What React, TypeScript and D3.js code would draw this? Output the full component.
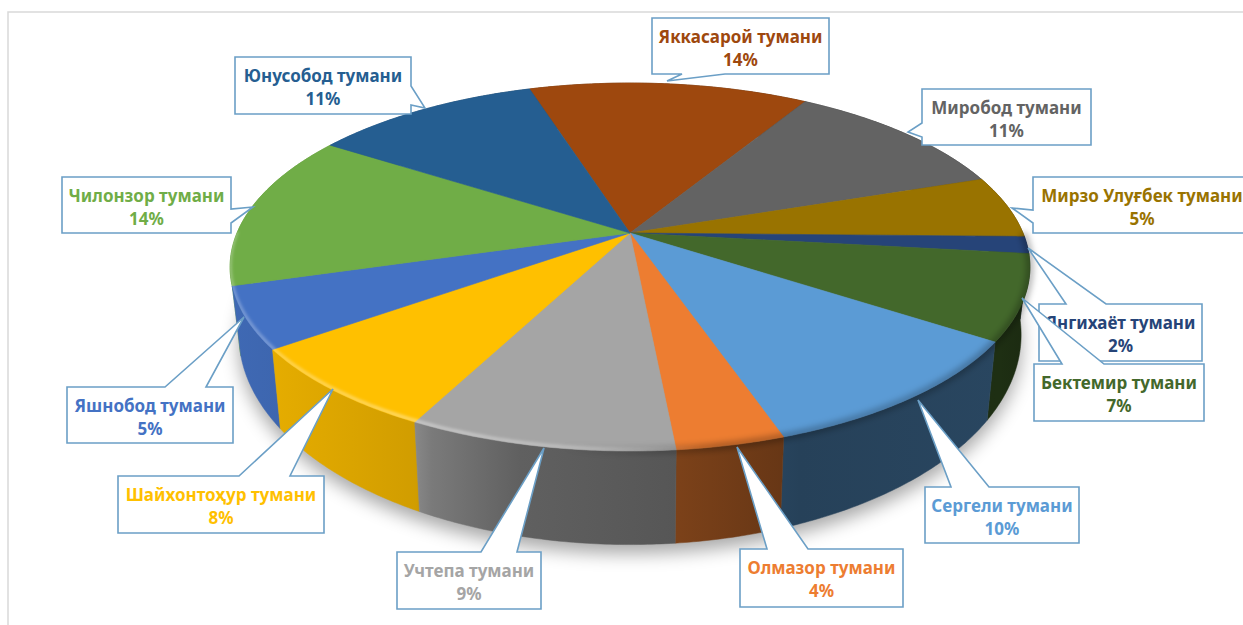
import React from "react";
import * as d3 from "d3";

const districts = ["Яккасарой тумани","Миробод тумани","Мирзо Улуғбек тумани","Янгихаёт тумани","Бектемир тумани","Сергели тумани","Олмазор тумани","Учтепа тумани","Шайхонтоҳур тумани","Яшнобод тумани","Чилонзор тумани","Юнусобод тумани"];
const shares = [13.5,11.2,5.49,1.5,7.49,10.49,3.7,9.1,7.5,5.4,13.7,11.0];
const sliceColors = ["#9e480e","#636363","#997300","#264478","#43682b","#5b9bd5","#ed7d31","#a5a5a5","#ffc000","#4472c4","#70ad47","#255e91"];
const labelColors = ["#9e480e","#636363","#997300","#264478","#43682b","#5b9bd5","#ed7d31","#a5a5a5","#ffc000","#4472c4","#70ad47","#255e91"];

// callout geometry: box, then wedge points in clockwise order and the side they sit on
type Callout = { box:[number,number,number,number]; side:"t"|"r"|"b"|"l"; wedge:[number,number][] };
const callouts: Callout[] = [
  {box:[652,18,829,74],side:"b",wedge:[[725,74],[667,81],[682,74]]},
  {box:[922,89,1091,145],side:"l",wedge:[[922,137],[908,132],[922,123]]},
  {box:[1033,177,1260,233],side:"l",wedge:[[1033,223],[1012,208],[1033,210]]},
  {box:[1039,304,1202,361],side:"t",wedge:[[1066,304],[1028,248],[1106,304]]},
  {box:[1034,364,1204,421],side:"t",wedge:[[1062,364],[1022,298],[1104,364]]},
  {box:[925,487,1079,543],side:"t",wedge:[[951,487],[918,400],[989,487]]},
  {box:[740,549,903,607],side:"t",wedge:[[767,549],[737,447],[808,549]]},
  {box:[397,552,541,609],side:"t",wedge:[[481,552],[544,448],[517,552]]},
  {box:[118,476,324,533],side:"t",wedge:[[239,476],[333,389],[290,476]]},
  {box:[67,387,233,443],side:"t",wedge:[[165,387],[244,317],[206,387]]},
  {box:[62,177,231,233],side:"r",wedge:[[231,209],[253,207],[231,223]]},
  {box:[235,57,411,114],side:"r",wedge:[[411,86],[425,108],[411,105]]},
];
const drawOrder = [0,1,2,3,4,5,6,7,8,9,10,11];

const CX = 630, CY = 233, A = 393, B = 177.7, P = 0.185;
const BASE_DY = 63, BASE_SX = 0.978, BASE_SY = 1.14;
const START = (-17.5 * Math.PI) / 180;

const wallStops: [number,number][] = [[230,0.92],[416,0.82],[432,0.74],[520,0.58],[680,0.52],[800,0.42],[1000,0.45],[1030,0.4]];
const wallX = d3.scaleLinear().domain([230,1030]).range([0,1]);

function project(a:number, base=false):[number,number]{
  const X = Math.sin(a), Y = -Math.cos(a);
  const d = 1 - P*Y;
  const x = (A*X)/d, y = (B*Y)/d;
  return base ? [CX + BASE_SX*x, CY + BASE_DY + BASE_SY*y] : [CX + x, CY + y];
}
const line = d3.line<[number,number]>().x(d=>d[0]).y(d=>d[1]);
function arcSamples(a0:number,a1:number){
  const n = Math.max(2, Math.ceil((a1-a0)/0.01));
  return d3.range(n+1).map(i=>a0+(a1-a0)*i/n);
}
function calloutPath(c:Callout){
  const [x0,y0,x1,y1]=c.box;
  const pts:[number,number][]=[[x0,y0]];
  if(c.side==="t") pts.push(...c.wedge);
  pts.push([x1,y0]);
  if(c.side==="r") pts.push(...c.wedge);
  pts.push([x1,y1]);
  if(c.side==="b") pts.push(...c.wedge);
  pts.push([x0,y1]);
  if(c.side==="l") pts.push(...c.wedge);
  return line(pts)+"Z";
}

export default function App(){
  const pie = d3.pie<number>().sort(null).startAngle(START).endAngle(START+2*Math.PI);
  const arcs = pie(shares);
  const backToFront = arcs.map((d,i)=>({d,i})).sort((p,q)=>{
    const m=(x:any)=>-Math.cos((x.startAngle+x.endAngle)/2);
    return m(p.d)-m(q.d);
  });
  const outline = (base:boolean)=>line(arcSamples(0,2*Math.PI).map(a=>project(a,base)))+"Z";
  const rimAngles = arcSamples(Math.PI*0.5,Math.PI*1.5);
  return (
    <svg width={1243} height={625} style={{position:"absolute",left:0,top:0,background:"#fff"}}>
      <defs>
        <filter id="soft" x="-20%" y="-20%" width="140%" height="140%"><feGaussianBlur stdDeviation="9"/></filter>
        <filter id="rimBlur" x="-5%" y="-5%" width="110%" height="110%"><feGaussianBlur stdDeviation="1.4"/></filter>
        <filter id="rimDark" x="-5%" y="-5%" width="110%" height="110%"><feGaussianBlur stdDeviation="3"/></filter>
        {sliceColors.map((col,i)=>(
          <linearGradient key={i} id={`wall${i}`} gradientUnits="userSpaceOnUse" x1={230} x2={1030} y1={0} y2={0}>
            {wallStops.map(([x,f],k)=>{
              const c=d3.rgb(col);
              return <stop key={k} offset={wallX(x)} stopColor={d3.rgb(c.r*f,c.g*f,c.b*f).formatHex()}/>;
            })}
          </linearGradient>
        ))}
        <linearGradient id="rimLight" gradientUnits="userSpaceOnUse" x1={230} x2={1030} y1={0} y2={0}>
          <stop offset={0} stopColor="#fff" stopOpacity={0.28}/>
          <stop offset={wallX(420)} stopColor="#fff" stopOpacity={0.4}/>
          <stop offset={wallX(600)} stopColor="#fff" stopOpacity={0.25}/>
          <stop offset={wallX(700)} stopColor="#fff" stopOpacity={0}/>
          <stop offset={1} stopColor="#fff" stopOpacity={0}/>
        </linearGradient>
        <linearGradient id="rimShade" gradientUnits="userSpaceOnUse" x1={230} x2={1030} y1={0} y2={0}>
          <stop offset={wallX(560)} stopColor="#000" stopOpacity={0}/>
          <stop offset={wallX(720)} stopColor="#000" stopOpacity={0.3}/>
          <stop offset={wallX(900)} stopColor="#000" stopOpacity={0.25}/>
          <stop offset={1} stopColor="#000" stopOpacity={0.3}/>
        </linearGradient>
        <clipPath id="topClip"><path d={outline(false)}/></clipPath>
      </defs>

      <path d="M8,625V12H1243" fill="none" stroke="#d9d9d9" strokeWidth={1.5}/>

      <path d={outline(true)} transform="translate(0,9)" fill="#000" opacity={0.34} filter="url(#soft)"/>

      <g>
        {backToFront.map(({d,i})=>{
          const as=arcSamples(d.startAngle,d.endAngle);
          const pts=[...as.map(a=>project(a)),...as.slice().reverse().map(a=>project(a,true))];
          return <path key={i} d={line(pts)+"Z"} fill={`url(#wall${i})`} stroke={`url(#wall${i})`} strokeWidth={0.5}/>;
        })}
      </g>

      <g>
        {arcs.map((d,i)=>{
          const pts:[number,number][]=[[CX,CY],...arcSamples(d.startAngle,d.endAngle).map(a=>project(a))];
          return <path key={i} d={line(pts)+"Z"} fill={sliceColors[i]} stroke={sliceColors[i]} strokeWidth={0.6}/>;
        })}
      </g>

      <path d={line(rimAngles.map(a=>project(a)))!} fill="none" stroke="url(#rimShade)" strokeWidth={7} filter="url(#rimDark)"/>
      <g clipPath="url(#topClip)">
        <path d={line(rimAngles.map(a=>{const p=project(a);return [p[0],p[1]-1.5] as [number,number];}))!} fill="none" stroke="url(#rimLight)" strokeWidth={3.5} filter="url(#rimBlur)"/>
      </g>

      <g>
        {drawOrder.map(i=>{
          const c=callouts[i];
          const [x0,y0,x1,y1]=c.box;
          const mid=i===2?1142:(x0+x1)/2;
          return (
            <g key={i}>
              <path d={calloutPath(c)} fill="#fff" stroke="#6b9fc6" strokeWidth={1.6} strokeLinejoin="miter"/>
              <text x={mid} y={y0+24.5} textAnchor="middle" fontFamily="'Noto Sans', sans-serif" fontWeight={700} fontSize={17} fill={labelColors[i]}>{districts[i]}</text>
              <text x={mid} y={y0+48} textAnchor="middle" fontFamily="'Noto Sans', sans-serif" fontWeight={700} fontSize={17} fill={labelColors[i]}>{Math.round(shares[i])}%</text>
            </g>
          );
        })}
      </g>
    </svg>
  );
}
